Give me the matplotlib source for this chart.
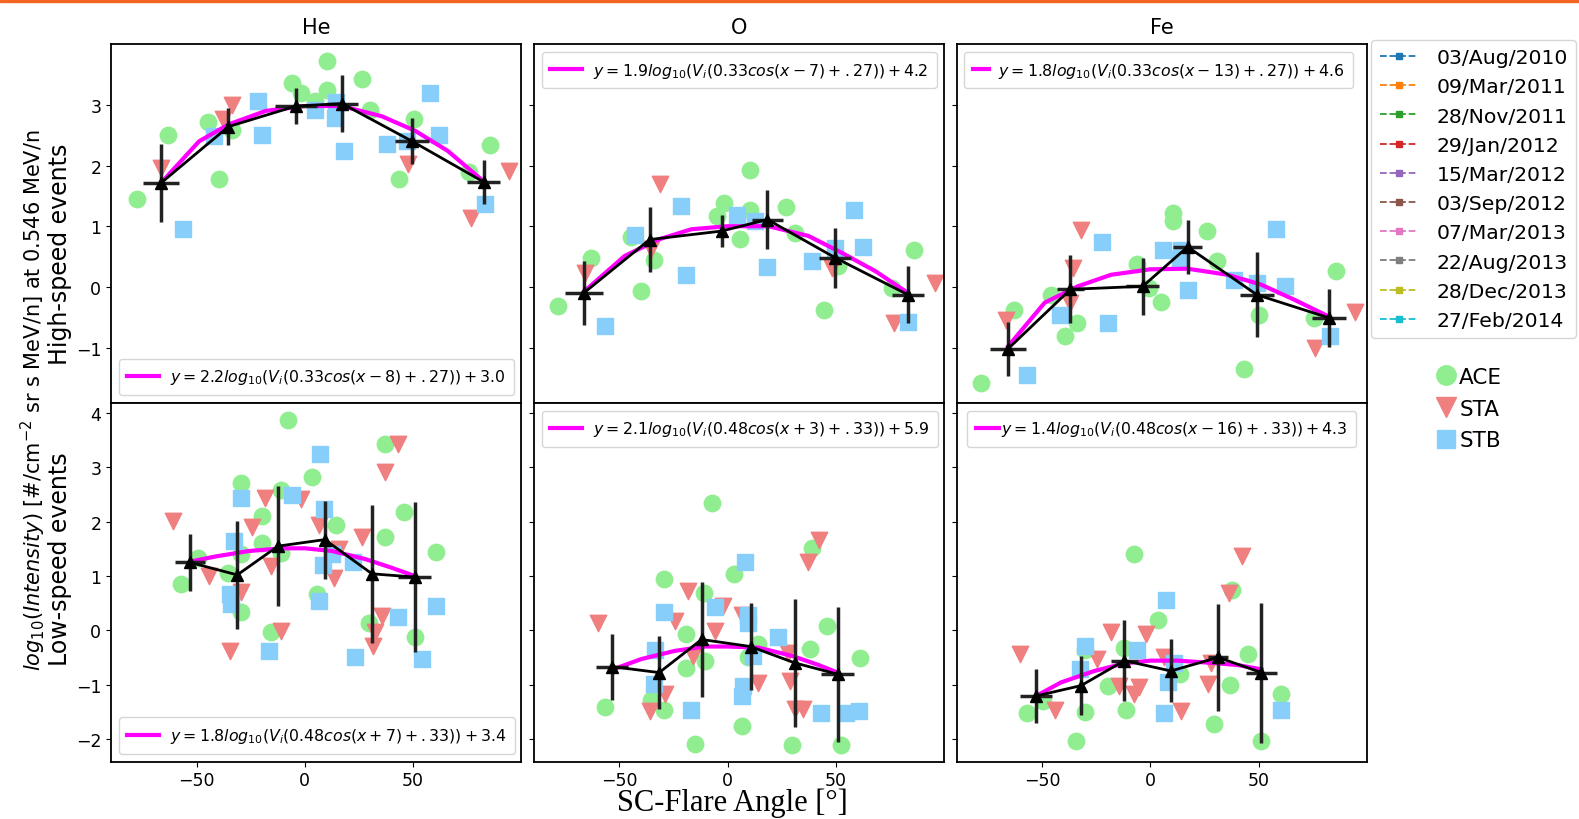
import matplotlib
matplotlib.use("Agg")
from matplotlib import pyplot as plt
from matplotlib.lines import Line2D
from matplotlib.patches import Rectangle

# ---- data: (angle, log10 intensity) per spacecraft, per panel ----
he_hi_ace = [(-77.7, 1.45), (-63, 2.51), (-44.7, 2.71), (-39.6, 1.77), (-33.5, 2.59), (-6.1, 3.36),
             (-1.7, 3.20), (10.3, 3.72), (10.3, 3.25), (26.4, 3.42), (30.3, 2.92), (50.5, 2.77),
             (43.3, 1.77), (85.6, 2.33), (4.9, 3.06), (76, 1.9)]
he_hi_sta = [(-66.5, 1.96), (-33.5, 3.0), (-37.8, 2.76), (47.6, 2.02), (76.8, 1.14), (94.3, 1.91)]
he_hi_stb = [(-56.2, 0.96), (-41.9, 2.48), (-21.8, 3.06), (-20, 2.51), (4.9, 2.92), (13.8, 2.79),
             (14.4, 3.04), (18, 2.24), (37.9, 2.35), (47.2, 2.40), (57.9, 3.2), (62, 2.51), (83, 1.37)]

o_hi_ace = [(-78.4, -0.32), (-63, 0.48), (-40.1, -0.07), (-34, 0.45), (-44.8, 0.82), (-5.1, 1.16),
            (-1.5, 1.38), (5.7, 0.79), (10.3, 1.27), (10.3, 1.93), (26.9, 1.32), (30.9, 0.89),
            (44.3, -0.38), (51.2, 0.34), (75.9, -0.02), (86, 0.60)]
o_hi_sta = [(-66, 0.23), (-31.3, 1.70), (-35.2, 0.62), (48.1, 0.31), (76.7, -0.59), (95.7, 0.07)]
o_hi_stb = [(-56.8, -0.65), (-42.6, 0.86), (-21.6, 1.34), (-19, 0.20), (4.2, 1.19), (12.7, 1.08),
            (18.4, 0.32), (38.9, 0.42), (49.4, 0.64), (58.2, 1.27), (62.3, 0.66), (83.3, -0.58)]

fe_hi_ace = [(-78, -1.58), (-63, -0.38), (-45.8, -0.13), (-39.6, -0.81), (-33.8, -0.59), (-6.1, 0.38),
             (-0.5, -0.02), (4.9, -0.25), (10.3, 1.22), (10.3, 1.08), (26, 0.92), (30.7, 0.42),
             (50.2, -0.47), (43.3, -1.36), (75.6, -0.51), (85.6, 0.27)]
fe_hi_sta = [(-66.5, -0.54), (-32, 0.93), (-35.8, 0.31), (-36.9, -0.26), (75.9, -1.0), (94.3, -0.42)]
fe_hi_stb = [(-57, -1.45), (-41.9, -0.46), (-22.4, 0.74), (-19.7, -0.59), (5.7, 0.60), (14.1, 0.60),
             (13.8, 0.46), (17.2, -0.05), (38.4, 0.11), (49.2, 0.07), (57.9, 0.95), (62, 0.01), (83, -0.81)]

he_lo_ace = [(-7.8, 3.87), (-29.6, 2.72), (3.4, 2.82), (-11.2, 2.58), (-20, 2.10), (-19.7, 1.61),
             (-29.6, 1.40), (-49.2, 1.34), (-57.3, 0.86), (-35.3, 1.06), (-29.6, 0.33), (-15.4, -0.04),
             (-11.2, 1.43), (5.7, 0.66), (14.4, 1.94), (37.2, 3.44), (36.9, 1.72), (45.6, 2.18),
             (29.5, 0.14), (51, -0.13), (60.5, 1.45)]
he_lo_sta = [(-60.8, 2.02), (-44.2, 1.0), (-34.7, -0.39), (-29.6, 0.71), (-24.3, 1.90), (-18.6, 2.43),
             (-15.8, 1.18), (-11.2, -0.01), (-1.7, 2.41), (6.5, 1.94), (13.4, 0.97), (15.7, 1.49),
             (26.4, 1.72), (35.6, 0.26), (36.9, 2.92), (42.9, 3.44), (31.3, -0.29), (32.3, -0.04)]
he_lo_stb = [(7.2, 3.24), (-29.6, 2.44), (-6.1, 2.49), (-32.7, 1.64), (-34.7, 0.66), (-34.3, 0.48),
             (8.8, 2.23), (8.3, 1.21), (12.6, 1.40), (22.1, 1.26), (6.5, 0.54), (-16.6, -0.38),
             (23.3, -0.49), (43, 0.25), (54.1, -0.53), (60.5, 0.45)]

o_lo_ace = [(-7.1, 2.35), (3.1, 1.03), (-29.3, 0.94), (-11, 0.69), (-19, -0.07), (-19.3, -0.69),
            (-10.5, -0.56), (-56.5, -1.41), (-35.2, -1.29), (-29.3, -1.47), (-15.1, -2.10), (6.8, -1.76),
            (14.2, -0.25), (9.6, -0.50), (38.1, -0.35), (38.9, 1.52), (45.8, 0.08), (29.6, -2.11),
            (52.5, -2.11), (61.3, -0.52)]
o_lo_sta = [(-59.9, 0.14), (-18.2, 0.72), (-2, 0.45), (-24.4, 0.17), (-5.9, -0.01), (-29, -1.18),
            (-36, -1.48), (-15.9, -0.47), (42, 1.67), (37.3, 1.25), (28.9, -0.93), (31.2, -1.45),
            (35, -1.45), (14.2, -0.98), (28.1, -0.41), (6.5, 0.29)]
o_lo_stb = [(8, 1.25), (-5.9, 0.42), (-29.3, 0.34), (-33.3, -0.37), (-33.9, -0.99), (-16.7, -1.47),
            (9.3, 0.29), (9.3, 0.14), (11.9, -0.47), (23.1, -0.12), (7.3, -1.02), (6.5, -1.21),
            (43.2, -1.52), (54.6, -1.52), (60.5, -1.48)]

fe_lo_ace = [(-7.7, 1.40), (3.4, 0.18), (37.5, 0.74), (44.9, -0.44), (-30.1, -0.37), (-12.3, -0.33),
             (-19.7, -1.02), (-49.6, -1.31), (-56.8, -1.52), (-30.1, -1.50), (-11.2, -1.47), (13.8, -0.80),
             (36.9, -1.01), (-34.3, -2.04), (29.2, -1.73), (51, -2.04), (60.5, -1.18)]
fe_lo_sta = [(-60.4, -0.43), (-44.2, -1.47), (-24.6, -0.53), (-18.1, -0.04), (-2, -0.06), (-14.3, -1.02),
             (-7.4, -1.18), (-5.1, -1.04), (14.1, -1.48), (26.4, -0.99), (28, -0.61), (42.5, 1.37),
             (36.4, 0.69), (6.5, -0.5)]
fe_lo_stb = [(7.2, 0.55), (-30.4, -0.29), (-32.7, -0.72), (-6.1, -0.37), (11.1, -0.60), (8.3, -0.96),
             (6.1, -1.52), (60.5, -1.47)]

# binned means: x, y, xerr, yerr
he_hi_mean = ([-66.5, -35.3, -4, 17.2, 49.5, 82.5], [1.71, 2.64, 2.98, 3.02, 2.40, 1.73],
              [8.2, 0, 9.8, 7.5, 7.7, 7.7], [0.64, 0.30, 0.29, 0.47, 0.38, 0.36])
o_hi_mean = ([-66.4, -36, -2.8, 18.4, 49.7, 83.3], [-0.10, 0.78, 0.92, 1.11, 0.48, -0.13],
             [8.7, 0, 0, 7.3, 7.3, 7.3], [0.52, 0.54, 0.27, 0.49, 0.49, 0.47])
fe_hi_mean = ([-65.7, -36.9, -3.5, 17.2, 49.2, 82.5], [-1.02, -0.04, 0.01, 0.66, -0.13, -0.51],
              [8.4, 6.4, 7.7, 6.8, 8.0, 7.7], [0.45, 0.56, 0.47, 0.44, 0.70, 0.48])
he_lo_mean = ([-53.1, -31.2, -12.4, 9.2, 31, 50.7], [1.25, 1.02, 1.55, 1.67, 1.04, 0.98],
              [6.9, 0, 0, 0, 0, 7.5], [0.52, 1.0, 1.1, 0.72, 1.27, 1.38])
o_lo_mean = ([-53.4, -31.6, -12, 10.6, 30.9, 50.8], [-0.67, -0.78, -0.17, -0.30, -0.60, -0.81],
             [7.2, 0, 0, 0, 0, 7.5], [0.61, 0.67, 1.06, 0.80, 1.18, 1.24])
fe_lo_mean = ([-52.7, -32, -12, 9.5, 31.3, 51.3], [-1.21, -1.02, -0.56, -0.75, -0.50, -0.78],
              [7.4, 0, 6.3, 0, 4.6, 7.3], [0.49, 0.55, 0.74, 0.58, 0.99, 1.29])

# fitted curves
he_hi_fit = ([-66.5, -48.8, -35, -18, 0, 17, 35.6, 51, 66, 82.5],
             [1.71, 2.40, 2.68, 2.90, 2.98, 2.98, 2.81, 2.57, 2.24, 1.74])
o_hi_fit = ([-66.4, -47.5, -32, -16.7, 0, 18.8, 37.3, 52.8, 68.2, 83.3],
            [-0.08, 0.51, 0.78, 0.95, 1.0, 1.0, 0.84, 0.56, 0.26, -0.10])
fe_hi_fit = ([-65.7, -48.8, -33.5, -18.1, 0, 17.2, 35.6, 51, 66.4, 82.5],
             [-0.98, -0.26, 0.01, 0.20, 0.29, 0.30, 0.20, 0.04, -0.21, -0.49])
he_lo_fit = ([-51, -41.2, -25.8, -10.4, 0, 12.6, 28, 40.2, 50.7],
             [1.28, 1.36, 1.46, 1.51, 1.51, 1.46, 1.31, 1.15, 1.0])
o_lo_fit = ([-50.8, -39.8, -24.4, -10.5, 0, 14.2, 29.6, 42, 50.8],
            [-0.69, -0.53, -0.38, -0.30, -0.30, -0.32, -0.47, -0.64, -0.78])
fe_lo_fit = ([-52.7, -41.2, -25.8, -12, 0, 12.6, 28, 40.2, 51.3],
             [-1.21, -0.96, -0.75, -0.61, -0.56, -0.56, -0.60, -0.64, -0.72])

fit_labels = [
    r'$y=2.2log_{10}(V_i(0.33cos(x-8)+.27))+3.0$',
    r'$y=1.9log_{10}(V_i(0.33cos(x-7)+.27))+4.2$',
    r'$y=1.8log_{10}(V_i(0.33cos(x-13)+.27))+4.6$',
    r'$y=1.8log_{10}(V_i(0.48cos(x+7)+.33))+3.4$',
    r'$y=2.1log_{10}(V_i(0.48cos(x+3)+.33))+5.9$',
    r'$y=1.4log_{10}(V_i(0.48cos(x-16)+.33))+4.3$',
]
legend_locs = ['lower left', 'upper left', 'upper left', 'lower left', 'upper left', 'upper center']
handle_lens = [2.0, 2.0, 1.0, 2.0, 2.0, 1.5]
handle_pads = [0.7, 0.7, 0.6, 0.7, 0.7, 0.1]

events = ['03/Aug/2010', '09/Mar/2011', '28/Nov/2011', '29/Jan/2012', '15/Mar/2012',
          '03/Sep/2012', '07/Mar/2013', '22/Aug/2013', '28/Dec/2013', '27/Feb/2014']
elements = ['He', 'O', 'Fe']

panels = [
    (he_hi_ace, he_hi_sta, he_hi_stb, he_hi_mean, he_hi_fit),
    (o_hi_ace, o_hi_sta, o_hi_stb, o_hi_mean, o_hi_fit),
    (fe_hi_ace, fe_hi_sta, fe_hi_stb, fe_hi_mean, fe_hi_fit),
    (he_lo_ace, he_lo_sta, he_lo_stb, he_lo_mean, he_lo_fit),
    (o_lo_ace, o_lo_sta, o_lo_stb, o_lo_mean, o_lo_fit),
    (fe_lo_ace, fe_lo_sta, fe_lo_stb, fe_lo_mean, fe_lo_fit),
]

plt.rcParams['font.size'] = 12.5

fig, axes = plt.subplots(2, 3, figsize=(15.79, 8.2), dpi=100, sharex=True, sharey='row')
fig.subplots_adjust(left=0.0703, right=0.8657, top=0.945, bottom=0.070, wspace=0.03, hspace=0)

# orange strip at the very top
fig.patches.append(Rectangle((0, 0.996), 1, 0.004, transform=fig.transFigure,
                             color='#f26522', zorder=10))

for i, ax in enumerate(axes.flat):
    ace, sta, stb, mean, fit = panels[i]
    ax.scatter(*zip(*ace), marker='o', s=140, color='lightgreen', zorder=2)
    ax.scatter(*zip(*sta), marker='v', s=140, color='lightcoral', zorder=2)
    ax.scatter(*zip(*stb), marker='s', s=130, color='lightskyblue', zorder=2)
    ax.plot(fit[0], fit[1], color='magenta', lw=3, zorder=3, label=fit_labels[i])
    mx, my, xerr, yerr = mean
    ax.errorbar(mx, my, xerr=xerr, yerr=yerr, fmt='none', ecolor='#222222', elinewidth=2.5, zorder=4)
    ax.plot(mx, my, color='k', lw=2, marker='^', ms=9, zorder=5)
    ax.legend(loc=legend_locs[i], fontsize=11.3, handlelength=handle_lens[i],
              handletextpad=handle_pads[i], borderpad=0.55)
    for s in ax.spines.values():
        s.set_linewidth(1.3)

for j, ax in enumerate(axes[0]):
    ax.set_title(elements[j], fontsize=15, pad=8)

axes[0, 0].set_ylim(-1.91, 4.0)
axes[0, 0].set_yticks([-1, 0, 1, 2, 3])
axes[1, 0].set_ylim(-2.42, 4.19)
axes[1, 0].set_yticks([-2, -1, 0, 1, 2, 3, 4])
axes[1, 0].set_xlim(-89.5, 100)
axes[1, 0].set_xticks([-50, 0, 50])

axes[0, 0].set_ylabel('High-speed events', fontsize=17)
axes[1, 0].set_ylabel('Low-speed events', fontsize=17)
axes[0, 0].yaxis.set_label_coords(-0.096, 0.416)
axes[1, 0].yaxis.set_label_coords(-0.096, 0.567)

fig.text(0.021, 0.512, r'$log_{10}(Intensity)$ [#/cm$^{-2}$ sr s MeV/n] at 0.546 MeV/n',
         rotation=90, ha='center', va='center', fontsize=15)
fig.text(0.464, 0.02, 'SC-Flare Angle [°]', ha='center', va='center', fontsize=22,
         family='Liberation Serif')

# event legend (dates)
ev_handles = [Line2D([], [], ls='--', marker='s', ms=5, lw=1.3, color=f'C{k}') for k in range(10)]
fig.legend(ev_handles, events, loc='upper left', bbox_to_anchor=(0.8685, 0.95),
           fontsize=14.7, handlelength=1.9, handletextpad=0.9, borderaxespad=0, labelspacing=0.5)

sc_handles = [Line2D([], [], ls='none', marker='o', ms=14, color='lightgreen'),
              Line2D([], [], ls='none', marker='v', ms=14, color='lightcoral'),
              Line2D([], [], ls='none', marker='s', ms=13, color='lightskyblue')]
fig.legend(sc_handles, ['ACE', 'STA', 'STB'], loc='upper left', bbox_to_anchor=(0.905, 0.562),
           fontsize=15.5, frameon=False, handlelength=0.8, handletextpad=0.2, labelspacing=0.55,
           borderaxespad=0)

plt.savefig('out.png', dpi=100)
